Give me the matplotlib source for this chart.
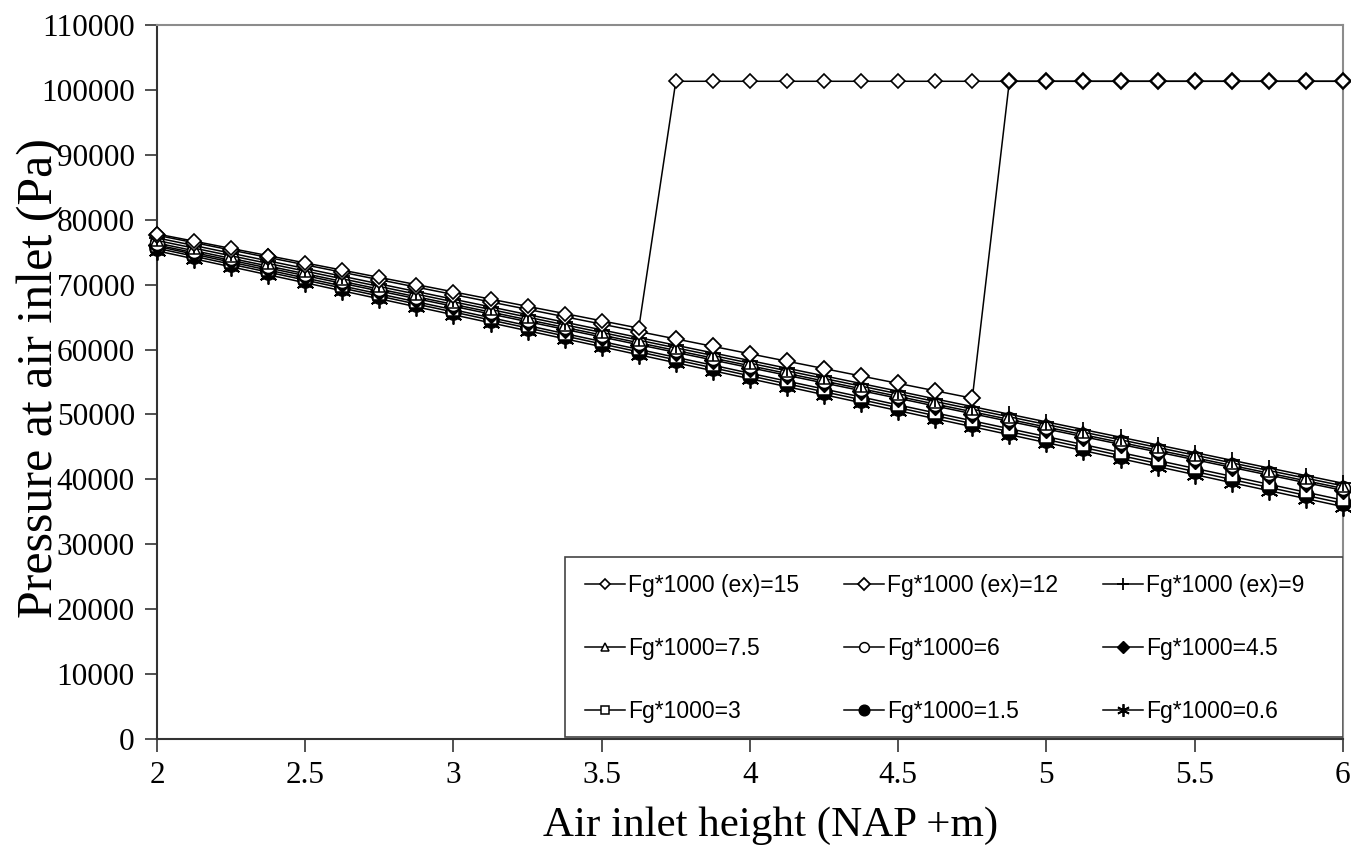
import numpy as np
import matplotlib.pyplot as plt
from matplotlib.patches import Rectangle
from matplotlib.ticker import FormatStrFormatter, MultipleLocator

# air inlet height (NAP +m), one point every 0.125 m
height = [2.0, 2.125, 2.25, 2.375, 2.5, 2.625, 2.75, 2.875, 3.0, 3.125, 3.25,
          3.375, 3.5, 3.625, 3.75, 3.875, 4.0, 4.125, 4.25, 4.375, 4.5, 4.625,
          4.75, 4.875, 5.0, 5.125, 5.25, 5.375, 5.5, 5.625, 5.75, 5.875, 6.0]

# pressure at air inlet (Pa) per series
p_ex15 = [77800, 76690, 75570, 74460, 73340, 72230, 71110, 70000, 68880, 67770,
          66650, 65540, 64420, 63300, 101325, 101325, 101325, 101325, 101325,
          101325, 101325, 101325, 101325, 101325, 101325, 101325, 101325, 101325,
          101325, 101325, 101325, 101325, 101325]
p_ex12 = [77600, 76460, 75320, 74180, 73040, 71900, 70750, 69610, 68470, 67330,
          66190, 65050, 63910, 62770, 61630, 60490, 59340, 58200, 57060, 55920,
          54780, 53640, 52500, 101325, 101325, 101325, 101325, 101325, 101325,
          101325, 101325, 101325, 101325]
p_ex9 = [77200, 76020, 74840, 73660, 72480, 71290, 70110, 68930, 67750, 66570,
         65390, 64210, 63030, 61840, 60660, 59480, 58300, 57120, 55940, 54760,
         53580, 52390, 51210, 50030, 48850, 47670, 46490, 45310, 44130, 42940,
         41760, 40580, 39400]
p_75 = [76800, 75620, 74440, 73260, 72080, 70890, 69710, 68530, 67350, 66170,
        64990, 63810, 62630, 61440, 60260, 59080, 57900, 56720, 55540, 54360,
        53180, 51990, 50810, 49630, 48450, 47270, 46090, 44910, 43730, 42540,
        41360, 40180, 39000]
p_6 = [76400, 75220, 74040, 72860, 71680, 70490, 69310, 68130, 66950, 65770,
       64590, 63410, 62230, 61040, 59860, 58680, 57500, 56320, 55140, 53960,
       52780, 51590, 50410, 49230, 48050, 46870, 45690, 44510, 43330, 42140,
       40960, 39780, 38600]
p_45 = [76100, 74920, 73740, 72560, 71380, 70190, 69010, 67830, 66650, 65470,
        64290, 63110, 61930, 60740, 59560, 58380, 57200, 56020, 54840, 53660,
        52480, 51290, 50110, 48930, 47750, 46570, 45390, 44210, 43030, 41840,
        40660, 39480, 38300]
p_3 = [75900, 74680, 73460, 72240, 71010, 69790, 68570, 67350, 66130, 64910,
       63690, 62460, 61240, 60020, 58800, 57580, 56350, 55130, 53910, 52690,
       51460, 50240, 49020, 47800, 46580, 45350, 44130, 42910, 41690, 40470,
       39240, 38020, 36800]
p_15 = [75600, 74370, 73140, 71920, 70690, 69460, 68230, 67000, 65780, 64550,
        63320, 62090, 60860, 59640, 58410, 57180, 55950, 54720, 53490, 52270,
        51040, 49810, 48580, 47350, 46130, 44900, 43670, 42440, 41210, 39980,
        38760, 37530, 36300]
p_06 = [75200, 73970, 72740, 71510, 70280, 69040, 67810, 66580, 65350, 64120,
        62890, 61660, 60430, 59190, 57960, 56730, 55500, 54270, 53040, 51810,
        50580, 49340, 48110, 46880, 45650, 44420, 43190, 41960, 40730, 39490,
        38260, 37030, 35800]

labels = ["Fg*1000 (ex)=15", "Fg*1000 (ex)=12", "Fg*1000 (ex)=9",
          "Fg*1000=7.5", "Fg*1000=6", "Fg*1000=4.5",
          "Fg*1000=3", "Fg*1000=1.5", "Fg*1000=0.6"]

series = [p_ex15, p_ex12, p_ex9, p_75, p_6, p_45, p_3, p_15, p_06]
# marker, size, face, edge width
styles = [('D', 7, 'white', 1.2),
          ('D', 8.5, 'white', 1.3),
          ('+', 12, 'black', 1.3),
          ('^', 9, 'white', 1.1),
          ('o', 10, 'white', 1.1),
          ('D', 9, 'black', 1.0),
          ('s', 9, 'white', 1.1),
          ('o', 11, 'black', 1.0),
          ((6, 2, 0), 13, 'black', 1.3)]

fig = plt.figure(figsize=(13.51, 8.55), dpi=100)
ax = fig.add_axes([0.1162, 0.1357, 0.8778, 0.8351])

lines = []
for i in range(len(series)):
    m, ms, fc, mew = styles[i]
    ln, = ax.plot(height, series[i], color='black', lw=1.1, marker=m, ms=ms,
                  mfc=fc, mec='black', mew=mew, label=labels[i], clip_on=False,
                  zorder=3 + (len(series) - i) * 0.01)
    lines.append(ln)

ax.set_xlim(2, 6)
ax.set_ylim(0, 110000)
ax.xaxis.set_major_locator(MultipleLocator(0.5))
ax.yaxis.set_major_locator(MultipleLocator(10000))
ax.xaxis.set_major_formatter(FormatStrFormatter('%g'))
ax.yaxis.set_major_formatter(FormatStrFormatter('%d'))

for s in ['left', 'bottom']:
    ax.spines[s].set_color('#333333')
    ax.spines[s].set_linewidth(1.5)
for s in ['top', 'right']:
    ax.spines[s].set_color('#8c8c8c')
    ax.spines[s].set_linewidth(1.5)

ax.tick_params(direction='out', length=9, width=1.2, color='#333333', pad=7)
for t in ax.get_xticklabels() + ax.get_yticklabels():
    t.set_fontfamily('Liberation Serif')
    t.set_fontsize(22.5)

ax.set_xlabel('Air inlet height (NAP +m)', fontfamily='Liberation Serif',
              fontsize=31, labelpad=12)
ax.xaxis.label.set_x(0.517)
ax.set_ylabel('Pressure at air inlet (Pa)', fontfamily='Liberation Serif',
              fontsize=36)
ax.yaxis.set_label_coords(-0.079, 0.505)

# legend box drawn separately, entries filled row by row
box = Rectangle((0.344, 0.003), 0.656, 0.252, transform=ax.transAxes,
                facecolor='white', edgecolor='#444444', lw=1.2, zorder=9)
ax.add_patch(box)
order = [0, 3, 6, 1, 4, 7, 2, 5, 8]
leg = ax.legend([lines[k] for k in order], [labels[k] for k in order],
                ncol=3, loc='center left', bbox_to_anchor=(0.361, 0.127),
                prop={'family': 'Liberation Sans', 'size': 16.5},
                frameon=False, borderaxespad=0, borderpad=0,
                labelspacing=1.75, handlelength=1.75, handletextpad=0.13,
                columnspacing=1.95)
leg.set_zorder(10)
for h in leg.legend_handles:
    h.set_markersize(h.get_markersize() * 0.7)

fig.savefig('out.png', dpi=100)
